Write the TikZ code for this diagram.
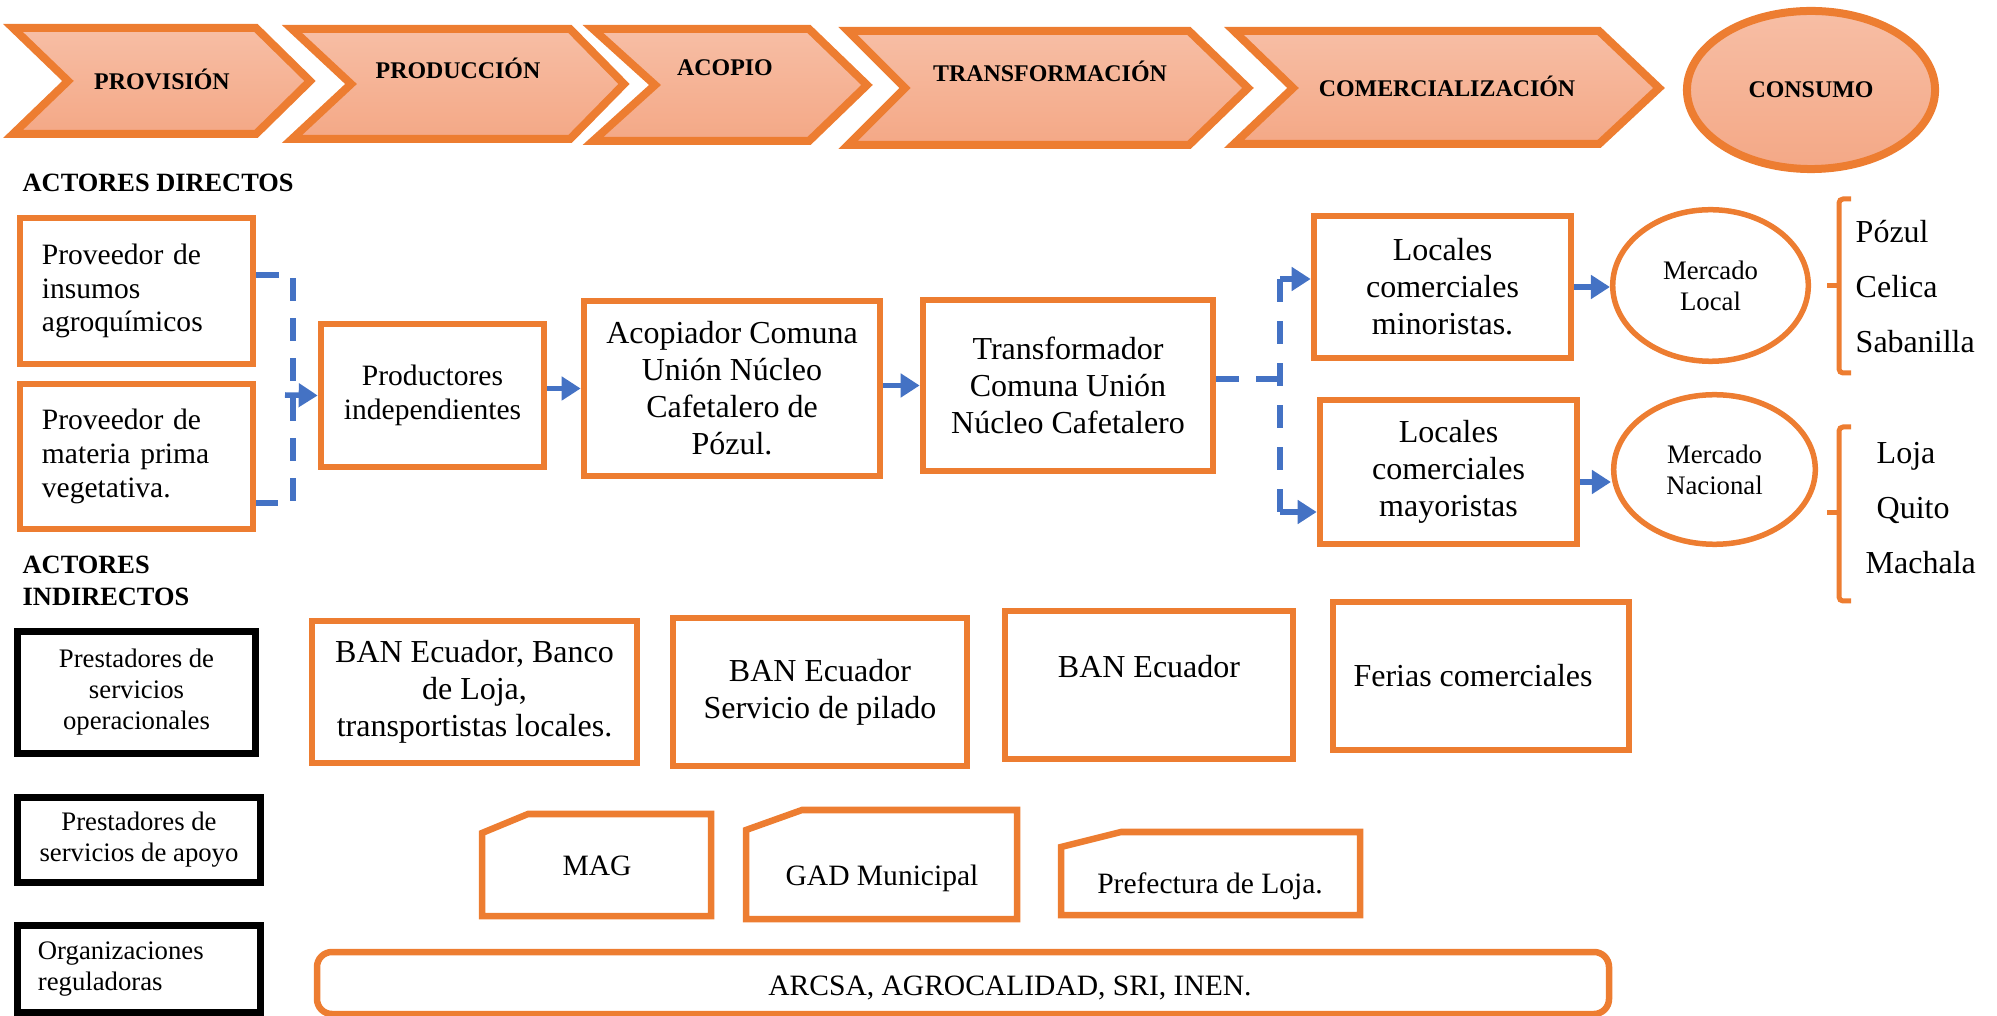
\documentclass[tikz,border=0pt]{standalone}
\usepackage{fontspec}
\setmainfont{Liberation Serif}
\usetikzlibrary{arrows.meta,shapes.geometric}
\definecolor{orng}{HTML}{ED7D31}
\definecolor{blu}{HTML}{4472C4}
\definecolor{chevtop}{HTML}{F7BEA5}
\definecolor{chevbot}{HTML}{F4A886}
\newcommand{\szA}{\fontsize{9.1}{10.5}\selectfont}
\newcommand{\szB}{\fontsize{8.4}{9.6}\selectfont}
\newcommand{\szD}{\fontsize{7.6}{8.8}\selectfont}
\newcommand{\szE}{\fontsize{6.8}{8}\selectfont\bfseries}
\newcommand{\szH}{\fontsize{7.5}{9.1}\selectfont\bfseries}
\begin{document}
\begin{tikzpicture}[x=0.01cm, y=-0.01cm,
  stage/.style={draw=orng, line width=0.8mm, top color=chevtop, bottom color=chevbot},
  stagetext/.style={font=\szE, inner sep=0pt, anchor=base},
  oline/.style={draw=orng, line width=0.65mm},
  obox/.style={oline, align=center, inner sep=0pt},
  kbox/.style={draw=black, line width=0.7mm, align=center, inner sep=0pt, font=\szD},
  market/.style={draw=orng, line width=0.55mm, ellipse, inner sep=0pt, align=center, font=\szD},
  arrowhead/.style={-{Triangle[length=0.19cm, width=0.23cm]}},
  flow/.style={draw=blu, line width=0.55mm, arrowhead},
  dflow/.style={draw=blu, line width=0.55mm, dash pattern=on 0.23cm off 0.17cm},
  brace/.style={draw=orng, line width=0.5mm, rounded corners=0.04cm},
  place/.style={font=\szA, inner sep=0pt, anchor=base west}]
  \useasboundingbox (0,0) rectangle (1997,1016);
  % Stages of the chain
  \draw[stage] (13,28) -- (256,28) -- (310,81) -- (256,134) -- (13,134) -- (68,81) -- cycle;
  \node[stagetext] (provision) at (162,90) {PROVISIÓN};
  \draw[stage] (292,29) -- (570,29) -- (624,84) -- (570,139) -- (292,139) -- (351,84) -- cycle;
  \node[stagetext] (produccion) at (458,79) {PRODUCCIÓN};
  \draw[stage] (593,29) -- (809,29) -- (867,85) -- (809,141) -- (593,141) -- (655,85) -- cycle;
  \node[stagetext] (acopio) at (725,76) {ACOPIO};
  \draw[stage] (848,31) -- (1189,31) -- (1248,88) -- (1189,145) -- (848,145) -- (905,88) -- cycle;
  \node[stagetext] (transformacion) at (1050,82) {TRANSFORMACIÓN};
  \draw[stage] (1234,31) -- (1599,31) -- (1659,88) -- (1599,144) -- (1234,144) -- (1293,88) -- cycle;
  \node[stagetext] (comercializacion) at (1447,97) {COMERCIALIZACIÓN};
  \node[stage, ellipse, inner sep=0pt, minimum width=2.48cm, minimum height=1.58cm, font=\szE] (consumo) at (1811,90) {CONSUMO};
  % Direct actors
  \node[font=\szH, inner sep=0pt, anchor=base west] (hdir) at (22,192) {ACTORES DIRECTOS};
  \node[obox, font=\szB, align=left, text width=1.89cm, inner xsep=0.22cm, minimum height=1.46cm] (insumos) at (136.5,291) {Proveedor de\\insumos\\agroquímicos};
  \node[obox, font=\szB, align=left, text width=1.89cm, inner xsep=0.22cm, minimum height=1.45cm] (materia) at (136.5,456.5) {Proveedor de\\materia prima\\vegetativa.};
  \node[obox, font=\szB, minimum width=2.23cm, minimum height=1.43cm] (prod) at (432.5,395.5) {Productores\\independientes};
  \node[obox, font=\szA, minimum width=2.96cm, minimum height=1.75cm] (acop) at (732,388.5) {Acopiador Comuna\\Unión Núcleo\\Cafetalero de\\Pózul.};
  \node[obox, font=\szA, minimum width=2.90cm, minimum height=1.71cm] (transf) at (1068,385.5) {Transformador\\Comuna Unión\\Núcleo Cafetalero};
  \node[obox, font=\szA, minimum width=2.57cm, minimum height=1.42cm] (minor) at (1442.5,287) {Locales\\comerciales\\minoristas.};
  \node[obox, font=\szA, minimum width=2.57cm, minimum height=1.44cm] (mayor) at (1448.5,472) {Locales\\comerciales\\mayoristas};
  \node[market, minimum width=1.955cm, minimum height=1.515cm] (local) at (1710.5,285.5) {Mercado\\Local};
  \node[market, minimum width=2.015cm, minimum height=1.495cm] (nac) at (1714.5,469.5) {Mercado\\Nacional};
  % Supply into producers
  \coordinate (jin) at (293,275);
  \coordinate (jmat) at (293,503);
  \coordinate (jprod) at (285,395);
  \draw[dflow] (insumos.east |- jin) -- (jin) -- (jmat) -- (materia.east |- jmat);
  \draw[flow] (jprod) -- (prod.west);
  \draw[flow] (prod.east |- acop.west) -- (acop.west);
  \draw[flow] (acop.east |- transf.west) -- (transf.west);
  % Split towards the shops
  \coordinate (jsplit) at (1280,379);
  \coordinate (jmin) at (1280,279);
  \coordinate (jmay) at (1280,512);
  \draw[dflow] (transf.east |- jsplit) -- (jsplit);
  \draw[dflow, dash pattern=on 0.23cm off 0.19cm] (jmin) -- (jmay);
  \draw[flow] (jmin) -- (minor.west |- jmin);
  \draw[flow] (jmay) -- (mayor.west |- jmay);
  \draw[flow] (minor.east) -- (minor.east -| local.west);
  \coordinate (mayout) at ([yshift=-0.1cm]mayor.east);
  \draw[flow] (mayout) -- (mayout -| nac.west);
  % Places
  \draw[brace] (1851,199) -- (1839,199) -- (1839,373) -- (1851,373);
  \draw[brace] (1827,286) -- (1839,286);
  \node[place] (pozul) at (1855,243) {Pózul};
  \node[place] (celica) at (1855,298) {Celica};
  \node[place] (sabanilla) at (1855,353) {Sabanilla};
  \draw[brace] (1851,427) -- (1839,427) -- (1839,601) -- (1851,601);
  \draw[brace] (1827,513) -- (1839,513);
  \node[place] (loja) at (1876,464) {Loja};
  \node[place] (quito) at (1876,519) {Quito};
  \node[place] (machala) at (1865,574) {Machala};
  % Indirect actors
  \node[font=\szH, inner sep=0pt, anchor=west, align=left] (hind) at (22,581) {ACTORES\\INDIRECTOS};
  \node[kbox, minimum width=2.38cm, minimum height=1.22cm] (opera) at (136.5,692.5) {Prestadores de\\servicios\\operacionales};
  \node[kbox, minimum width=2.43cm, minimum height=0.85cm] (apoyo) at (139,840) {Prestadores de\\servicios de apoyo};
  \node[kbox, align=left, text width=2.02cm, inner xsep=0.205cm, minimum height=0.87cm] (regul) at (139,969) {Organizaciones\\reguladoras};
  \node[obox, font=\szA, minimum width=3.25cm, minimum height=1.42cm] (ban1) at (474.5,692) {BAN Ecuador, Banco\\de Loja,\\transportistas locales.};
  \node[obox, font=\szA, minimum width=2.94cm, minimum height=1.48cm] (ban2) at (820,692) {BAN Ecuador\\Servicio de pilado};
  \node[obox, font=\szA, minimum width=2.88cm, minimum height=1.48cm] (ban3) at (1149,685) {BAN Ecuador\\\mbox{}};
  \node[obox, font=\szA, minimum width=2.96cm, minimum height=1.48cm] (ferias) at (1481,676) {Ferias comerciales\hspace{0.16cm}};
  % Support services
  \draw[oline] (482,833) -- (528,814) -- (711,814) -- (711,916) -- (482,916) -- cycle;
  \node[font=\szB, inner sep=0pt, anchor=base] (mag) at (597,875) {MAG};
  \draw[oline] (746,830) -- (802,810) -- (1017,810) -- (1017,919) -- (746,919) -- cycle;
  \node[font=\szB, inner sep=0pt, anchor=base] (gad) at (882,885) {GAD Municipal};
  \draw[oline] (1061,847) -- (1121,832) -- (1360,832) -- (1360,915) -- (1061,915) -- cycle;
  \node[font=\szB, inner sep=0pt, anchor=base] (prefectura) at (1210,893) {Prefectura de Loja.};
  % Regulators
  \draw[oline, rounded corners=0.15cm] (317,952) rectangle (1609,1014);
  \node[font=\szB, inner sep=0pt, anchor=base] (reg) at (1010,995) {ARCSA, AGROCALIDAD, SRI, INEN.};
\end{tikzpicture}
\end{document}
